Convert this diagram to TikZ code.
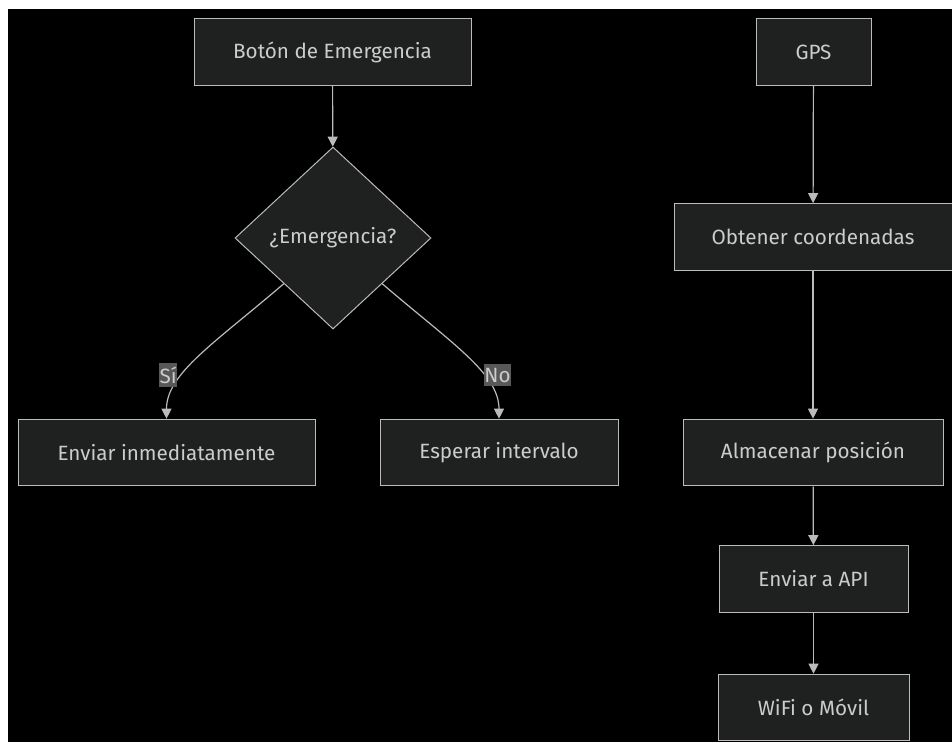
\documentclass[tikz,border=0pt]{standalone}
\usepackage{fontspec}
\setmainfont{Fira Sans}
\usetikzlibrary{shapes.geometric,arrows.meta}
\definecolor{boxfill}{HTML}{1F2020}
\definecolor{boxline}{HTML}{BBBBBB}
\definecolor{txt}{HTML}{CCCCCC}
\definecolor{lblfill}{HTML}{585858}

\begin{document}
\begin{tikzpicture}
  [x=0.75pt,y=-0.75pt,font=\fontsize{15.5}{18}\selectfont]
      \tikzstyle{box_style} = [draw=boxline, fill=boxfill, text=txt, line width=0.75pt, minimum height=50pt, inner sep=0pt]
      \tikzstyle{edge_style} = [draw=boxline, line width=0.9pt, -{Triangle[length=7.5pt,width=7.5pt]}]
      \tikzstyle{label_style} = [fill=lblfill, text=txt, inner xsep=0.5pt, inner ysep=3pt]
  \useasboundingbox (0,0) rectangle (952,742);
  \fill[white] (0,0) rectangle (952,742);
  \fill[black] (8,9) rectangle (952,742);
  % left branch
  \node[box_style, minimum width=207.75pt] (n0) at (332.5, 52) {Botón de Emergencia};
  \node[box_style, shape=diamond, minimum width=147pt, minimum height=136.5pt] (n1) at (333, 238) {¿Emergencia?};
  \node[box_style, minimum width=222.75pt] (n2) at (166.5, 452.5) {Enviar inmediatamente};
  \node[box_style, minimum width=178.5pt] (n3) at (499, 452.5) {Esperar intervalo};
  % right branch
  \node[box_style, minimum width=86.25pt] (n4) at (813.5, 52) {GPS};
  \node[box_style, minimum width=208.5pt] (n5) at (813, 237) {Obtener coordenadas};
  \node[box_style, minimum width=195pt] (n6) at (813, 452.5) {Almacenar posición};
  \node[box_style, minimum width=141.75pt] (n7) at (813.5, 579) {Enviar a API};
  \node[box_style, minimum width=143.25pt] (n8) at (813.5, 707.5) {WiFi o Móvil};
  \draw[edge_style] (n0) -- (n1);
  \draw[edge_style] (n1.south west) .. controls +(-70,60) and +(0,-45) .. (n2.north)
    node[label_style, pos=0.65, xshift=-11pt] {Sí};
  \draw[edge_style] (n1.south east) .. controls +(70,60) and +(0,-45) .. (n3.north)
    node[label_style, pos=0.65, xshift=11pt] {No};
  \draw[edge_style] (n4) -- (n5);
  \draw[edge_style] (n5) -- (n6);
  \draw[edge_style] (n6) -- (n7);
  \draw[edge_style] (n7) -- (n8);
\end{tikzpicture}
\end{document}
